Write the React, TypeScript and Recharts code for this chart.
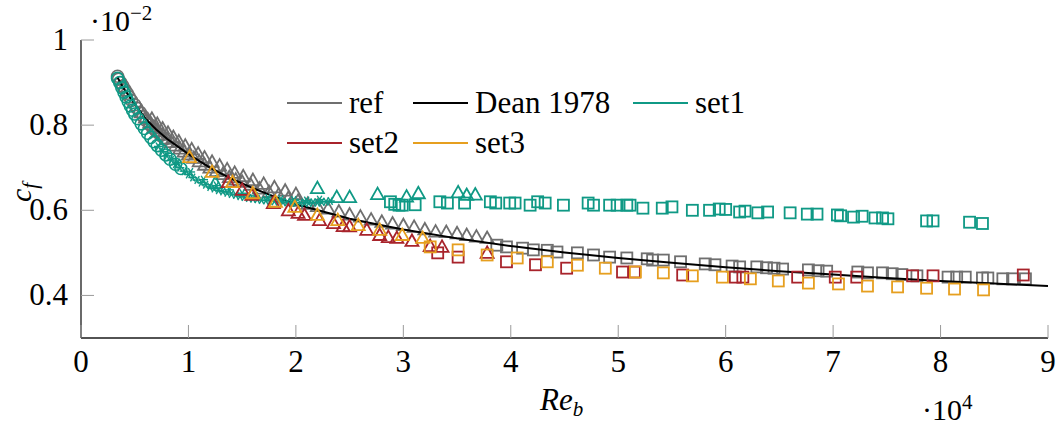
import { ScatterChart, Scatter, XAxis, YAxis } from 'recharts';

type Pt = [number, number];

const xTicks = [0, 1, 2, 3, 4, 5, 6, 7, 8, 9];
const yTicks = [0.4, 0.6, 0.8, 1];

// x in units of 1e4, y in units of 1e-2
const refCircles: Pt[] = [
  [0.34, 0.915], [0.35, 0.908], [0.37, 0.9], [0.39, 0.892], [0.41, 0.883], [0.43, 0.875],
  [0.45, 0.866], [0.47, 0.858], [0.5, 0.848], [0.52, 0.84], [0.55, 0.83], [0.58, 0.82],
  [0.61, 0.81], [0.64, 0.801], [0.67, 0.793], [0.7, 0.785], [0.74, 0.776], [0.78, 0.767],
];
const refTriangles: Pt[] = [
  [0.56, 0.83], [0.6, 0.818], [0.64, 0.806], [0.68, 0.796], [0.72, 0.786], [0.76, 0.777],
  [0.8, 0.768], [0.84, 0.76], [0.88, 0.752], [0.92, 0.745], [0.96, 0.738], [1.0, 0.731],
  [1.05, 0.723], [1.1, 0.715], [1.15, 0.707], [1.2, 0.7], [1.26, 0.692], [1.32, 0.685],
  [1.38, 0.678], [1.44, 0.672], [1.5, 0.667], [1.58, 0.66], [1.66, 0.651], [1.75, 0.643],
  [1.84, 0.637], [1.93, 0.629], [2.02, 0.622], [2.11, 0.615], [2.2, 0.61], [2.3, 0.604],
  [2.4, 0.597], [2.5, 0.59], [2.6, 0.585], [2.7, 0.578], [2.8, 0.573], [2.9, 0.569],
  [3.0, 0.565], [3.1, 0.561], [3.2, 0.555], [3.3, 0.55], [3.4, 0.549], [3.5, 0.546],
  [3.59, 0.542], [3.68, 0.538], [3.78, 0.535],
];
const refTrianglesUpper: Pt[] = [
  [0.66, 0.815], [0.71, 0.803], [0.76, 0.792], [0.81, 0.782], [0.86, 0.772], [0.91, 0.762],
  [0.97, 0.752], [1.03, 0.743], [1.09, 0.733], [1.15, 0.724], [1.22, 0.714], [1.29, 0.705],
  [1.36, 0.696], [1.43, 0.688], [1.51, 0.68], [1.6, 0.671], [1.7, 0.662], [1.8, 0.654],
  [1.9, 0.646], [2.0, 0.638],
];
const refSquares: Pt[] = [
  [3.87, 0.518], [3.96, 0.514], [4.11, 0.511], [4.21, 0.507], [4.34, 0.506], [4.43, 0.502],
  [4.62, 0.5], [4.77, 0.495], [4.92, 0.49], [5.08, 0.488], [5.27, 0.486], [5.32, 0.483],
  [5.42, 0.483], [5.58, 0.479], [5.81, 0.474], [5.9, 0.472], [6.06, 0.469], [6.13, 0.467],
  [6.29, 0.467], [6.38, 0.465], [6.45, 0.464], [6.53, 0.462], [6.77, 0.46], [6.86, 0.458],
  [6.94, 0.457], [7.23, 0.455], [7.32, 0.453], [7.46, 0.453], [7.55, 0.451], [7.64, 0.449],
  [7.78, 0.446], [8.07, 0.443], [8.15, 0.443], [8.23, 0.443], [8.39, 0.441], [8.44, 0.441],
  [8.58, 0.439], [8.67, 0.439], [8.79, 0.439],
];
const dean: Pt[] = [
  [0.34, 0.912], [0.4, 0.885], [0.5, 0.85], [0.6, 0.815], [0.7, 0.79], [0.8, 0.768],
  [1.0, 0.732], [1.2, 0.7], [1.4, 0.674], [1.6, 0.652], [1.8, 0.632], [2.0, 0.614],
  [2.25, 0.597], [2.5, 0.58], [2.75, 0.567], [3.0, 0.555], [3.5, 0.534], [4.0, 0.516],
  [4.5, 0.501], [5.0, 0.488], [5.5, 0.477], [6.0, 0.466], [6.5, 0.457], [7.0, 0.449],
  [7.5, 0.441], [8.0, 0.434], [8.5, 0.428], [9.0, 0.422],
];
const set1Circles: Pt[] = [
  [0.34, 0.91], [0.36, 0.9], [0.38, 0.888], [0.4, 0.877], [0.42, 0.866], [0.44, 0.855],
  [0.46, 0.845], [0.48, 0.835], [0.5, 0.826], [0.53, 0.815], [0.56, 0.803], [0.59, 0.792],
  [0.62, 0.781], [0.65, 0.771], [0.68, 0.761], [0.71, 0.752], [0.75, 0.741], [0.79, 0.73],
  [0.83, 0.72], [0.88, 0.708], [0.93, 0.698],
];
const set1Stars: Pt[] = [
  [0.72, 0.75], [0.76, 0.738], [0.8, 0.728], [0.84, 0.718], [0.88, 0.708], [0.92, 0.7],
  [0.96, 0.692], [1.0, 0.684], [1.04, 0.677], [1.08, 0.671], [1.12, 0.665], [1.16, 0.66],
  [1.2, 0.655], [1.24, 0.651], [1.28, 0.647], [1.32, 0.644], [1.36, 0.641], [1.4, 0.638],
  [1.44, 0.636], [1.48, 0.633], [1.52, 0.631], [1.56, 0.629], [1.6, 0.627], [1.64, 0.626],
  [1.68, 0.624], [1.72, 0.623], [1.76, 0.622], [1.8, 0.621], [1.84, 0.62], [1.88, 0.619],
  [1.92, 0.619], [1.96, 0.618], [2.0, 0.618], [2.04, 0.617], [2.08, 0.618], [2.12, 0.617],
  [2.16, 0.619], [2.2, 0.618], [2.24, 0.62], [2.28, 0.62], [2.32, 0.622],
  [0.9, 0.712], [1.02, 0.69], [1.14, 0.672], [1.26, 0.658], [1.38, 0.648], [1.5, 0.64],
  [1.62, 0.634], [1.74, 0.629], [1.86, 0.626], [1.98, 0.624], [2.1, 0.623], [2.22, 0.625],
];
const set1Triangles: Pt[] = [
  [1.25, 0.664], [2.2, 0.652], [2.38, 0.631], [2.5, 0.631], [2.76, 0.638], [3.03, 0.632],
  [3.14, 0.64], [3.51, 0.642], [3.59, 0.636], [3.67, 0.637],
];
const set1Squares: Pt[] = [
  [2.88, 0.62], [2.92, 0.614], [2.96, 0.612], [2.99, 0.612], [3.11, 0.613], [3.34, 0.62],
  [3.41, 0.617], [3.57, 0.617], [3.81, 0.62], [3.86, 0.617], [3.99, 0.617], [4.04, 0.617],
  [4.18, 0.612], [4.25, 0.62], [4.32, 0.617], [4.49, 0.612], [4.72, 0.617], [4.77, 0.612],
  [4.92, 0.612], [4.99, 0.612], [5.08, 0.612], [5.11, 0.612], [5.23, 0.605], [5.41, 0.605],
  [5.5, 0.608], [5.69, 0.6], [5.85, 0.6], [5.94, 0.603], [6.0, 0.602], [6.13, 0.596],
  [6.18, 0.598], [6.3, 0.594], [6.39, 0.596], [6.6, 0.594], [6.76, 0.591], [6.85, 0.591],
  [7.04, 0.589], [7.07, 0.587], [7.19, 0.584], [7.27, 0.586], [7.39, 0.582], [7.46, 0.582],
  [7.51, 0.58], [7.87, 0.575], [7.93, 0.575], [8.27, 0.572], [8.39, 0.569],
];
const set2Triangles: Pt[] = [
  [1.37, 0.666], [1.5, 0.648], [1.59, 0.636], [1.79, 0.617], [1.93, 0.6], [2.02, 0.594],
  [2.08, 0.589], [2.22, 0.577], [2.35, 0.57], [2.44, 0.563], [2.5, 0.562], [2.66, 0.554],
  [2.78, 0.542], [2.86, 0.537], [2.94, 0.535], [3.08, 0.528], [3.25, 0.516], [3.36, 0.514],
  [3.78, 0.5],
];
const set2Squares: Pt[] = [
  [3.32, 0.5], [3.51, 0.49], [3.96, 0.479], [4.23, 0.472], [4.52, 0.464], [5.04, 0.455],
  [5.15, 0.455], [5.6, 0.448], [6.09, 0.443], [6.16, 0.443], [6.67, 0.443], [7.02, 0.443],
  [7.22, 0.443], [7.74, 0.446], [7.93, 0.446], [8.77, 0.448],
];
const set3Triangles: Pt[] = [
  [1.01, 0.725], [1.22, 0.69], [1.41, 0.666], [1.6, 0.64], [1.81, 0.62], [1.99, 0.608],
  [2.2, 0.589], [2.39, 0.577], [2.58, 0.565], [2.78, 0.554], [2.99, 0.542], [3.18, 0.535],
];
const set3Squares: Pt[] = [
  [3.25, 0.514], [3.51, 0.507], [3.78, 0.495], [4.06, 0.488], [4.34, 0.479], [4.62, 0.471],
  [4.88, 0.464], [5.16, 0.455], [5.42, 0.453], [5.69, 0.446], [5.97, 0.443], [6.23, 0.439],
  [6.49, 0.434], [6.77, 0.429], [7.05, 0.427], [7.32, 0.422], [7.6, 0.42], [7.87, 0.417],
  [8.13, 0.415], [8.4, 0.413],
];

const GRAY = '#6f6f6f';
const TEAL = '#0f9985';
const RED = '#a8232b';
const ORANGE = '#e69f1f';
const FONT = "'Liberation Serif', 'Times New Roman', Tinos, 'DejaVu Serif', 'Noto Serif', FreeSerif, serif";

const toObj = (d: Pt[]) => d.map(([x, y]) => ({ x, y }));

const circle = (color: string) => (p: any) => (
  <circle cx={p.cx} cy={p.cy} r={6} fill="none" stroke={color} strokeWidth={1.6} />
);
const triangle = (color: string) => (p: any) => (
  <polygon
    points={`${p.cx},${p.cy - 6.5} ${p.cx - 6.5},${p.cy + 5} ${p.cx + 6.5},${p.cy + 5}`}
    fill="none"
    stroke={color}
    strokeWidth={1.8}
  />
);
const square = (color: string) => (p: any) => (
  <rect x={p.cx - 5.5} y={p.cy - 5.5} width={11} height={11} fill="none" stroke={color} strokeWidth={1.8} />
);
const star = (color: string) => (p: any) => (
  <g stroke={color} strokeWidth={1.4}>
    <line x1={p.cx - 4.5} y1={p.cy} x2={p.cx + 4.5} y2={p.cy} />
    <line x1={p.cx - 2.3} y1={p.cy - 3.9} x2={p.cx + 2.3} y2={p.cy + 3.9} />
    <line x1={p.cx - 2.3} y1={p.cy + 3.9} x2={p.cx + 2.3} y2={p.cy - 3.9} />
  </g>
);

const TICK = '#9a9a9a';

const BottomTick = (p: any) => (
  <g>
    <line x1={p.x} y1={p.y} x2={p.x} y2={p.y - 13} stroke={TICK} />
    <text x={p.x} y={p.y + 34} textAnchor="middle" style={{ fontFamily: FONT }} fontSize={31} fill="#000">
      {p.payload.value}
    </text>
  </g>
);
const TopTick = (p: any) => <line x1={p.x} y1={p.y} x2={p.x} y2={p.y + 13} stroke={TICK} />;
const LeftTick = (p: any) => (
  <g>
    <line x1={p.x} y1={p.y} x2={p.x + 13} y2={p.y} stroke={TICK} />
    <text x={p.x - 13} y={p.y + 10} textAnchor="end" style={{ fontFamily: FONT }} fontSize={31} fill="#000">
      {p.payload.value === 1 ? '1' : Number(p.payload.value).toFixed(1)}
    </text>
  </g>
);
const RightTick = (p: any) => <line x1={p.x} y1={p.y} x2={p.x - 13} y2={p.y} stroke={TICK} />;

const legendRows = [
  [
    { name: 'ref', color: GRAY },
    { name: 'Dean 1978', color: '#000' },
    { name: 'set1', color: TEAL },
  ],
  [
    { name: 'set2', color: RED },
    { name: 'set3', color: ORANGE },
  ],
];
const colWidths = [126, 220, 130];

const axisLine = { stroke: '#1a1a1a', strokeWidth: 1.3 };

export default function App() {
  return (
    <div style={{ position: 'absolute', left: 0, top: 0, width: 1058, height: 430, background: '#fff' }}>
      <ScatterChart width={1058} height={430} margin={{ top: 40, right: 10, bottom: 52, left: 21 }}>
        <XAxis xAxisId="b" type="number" dataKey="x" domain={[0, 9]} ticks={xTicks} interval={0}
          tick={<BottomTick />} tickLine={false} tickSize={0} tickMargin={0} height={40} axisLine={axisLine} allowDataOverflow />
        <XAxis xAxisId="t" orientation="top" type="number" dataKey="x" domain={[0, 9]} ticks={xTicks} interval={0}
          tick={<TopTick />} tickLine={false} tickSize={0} tickMargin={0} height={0} axisLine={axisLine} />
        <YAxis yAxisId="l" type="number" dataKey="y" domain={[0.3, 1]} ticks={yTicks} interval={0}
          tick={<LeftTick />} tickLine={false} tickSize={0} tickMargin={0} width={60} axisLine={axisLine} allowDataOverflow />
        <YAxis yAxisId="r" orientation="right" type="number" dataKey="y" domain={[0.3, 1]} ticks={yTicks} interval={0}
          tick={<RightTick />} tickLine={false} tickSize={0} tickMargin={0} width={0} axisLine={axisLine} />

        <Scatter xAxisId="b" yAxisId="l" data={toObj(refCircles)} shape={circle(GRAY)} isAnimationActive={false} />
        <Scatter xAxisId="b" yAxisId="l" data={toObj(refTriangles)} shape={triangle(GRAY)} isAnimationActive={false} />
        <Scatter xAxisId="b" yAxisId="l" data={toObj(refTrianglesUpper)} shape={triangle(GRAY)} isAnimationActive={false} />
        <Scatter xAxisId="b" yAxisId="l" data={toObj(refSquares)} shape={square(GRAY)} isAnimationActive={false} />
        <Scatter xAxisId="b" yAxisId="l" data={toObj(dean)} shape={() => <g />} line={{ stroke: '#000', strokeWidth: 2 }}
          lineType="joint" isAnimationActive={false} />
        <Scatter xAxisId="b" yAxisId="l" data={toObj(set1Circles)} shape={circle(TEAL)} isAnimationActive={false} />
        <Scatter xAxisId="b" yAxisId="l" data={toObj(set1Stars)} shape={star(TEAL)} isAnimationActive={false} />
        <Scatter xAxisId="b" yAxisId="l" data={toObj(set1Triangles)} shape={triangle(TEAL)} isAnimationActive={false} />
        <Scatter xAxisId="b" yAxisId="l" data={toObj(set1Squares)} shape={square(TEAL)} isAnimationActive={false} />
        <Scatter xAxisId="b" yAxisId="l" data={toObj(set2Triangles)} shape={triangle(RED)} isAnimationActive={false} />
        <Scatter xAxisId="b" yAxisId="l" data={toObj(set2Squares)} shape={square(RED)} isAnimationActive={false} />
        <Scatter xAxisId="b" yAxisId="l" data={toObj(set3Triangles)} shape={triangle(ORANGE)} isAnimationActive={false} />
        <Scatter xAxisId="b" yAxisId="l" data={toObj(set3Squares)} shape={square(ORANGE)} isAnimationActive={false} />
      </ScatterChart>

      <svg width={1058} height={430} style={{ position: 'absolute', left: 0, top: 0, pointerEvents: 'none', fontFamily: FONT }}
        fill="#000">
        <text x={90} y={31} fontSize={30}>
          ·10<tspan dy={-11} fontSize={21}>−2</tspan>
        </text>
        <text x={540} y={410} fontSize={31} fontStyle="italic">
          Re<tspan dy={6} fontSize={21}>b</tspan>
        </text>
        <text x={922} y={420} fontSize={30}>
          ·10<tspan dy={-11} fontSize={21}>4</tspan>
        </text>
        <text transform="translate(31,202) rotate(-90)" fontSize={30} fontStyle="italic">
          c<tspan dy={6} fontSize={21}>f</tspan>
        </text>
      </svg>

      <div style={{ position: 'absolute', left: 287, top: 83, fontFamily: FONT, fontSize: 31, lineHeight: '40px' }}>
        {legendRows.map((row, ri) => (
          <div key={ri} style={{ display: 'flex', height: 40, alignItems: 'center' }}>
            {row.map((item, ci) => (
              <div key={item.name} style={{ width: colWidths[ci], display: 'flex', alignItems: 'center' }}>
                <span style={{ display: 'inline-block', width: 55, height: 2, background: item.color, marginRight: 7 }} />
                <span style={{ whiteSpace: 'nowrap' }}>{item.name}</span>
              </div>
            ))}
          </div>
        ))}
      </div>
    </div>
  );
}
